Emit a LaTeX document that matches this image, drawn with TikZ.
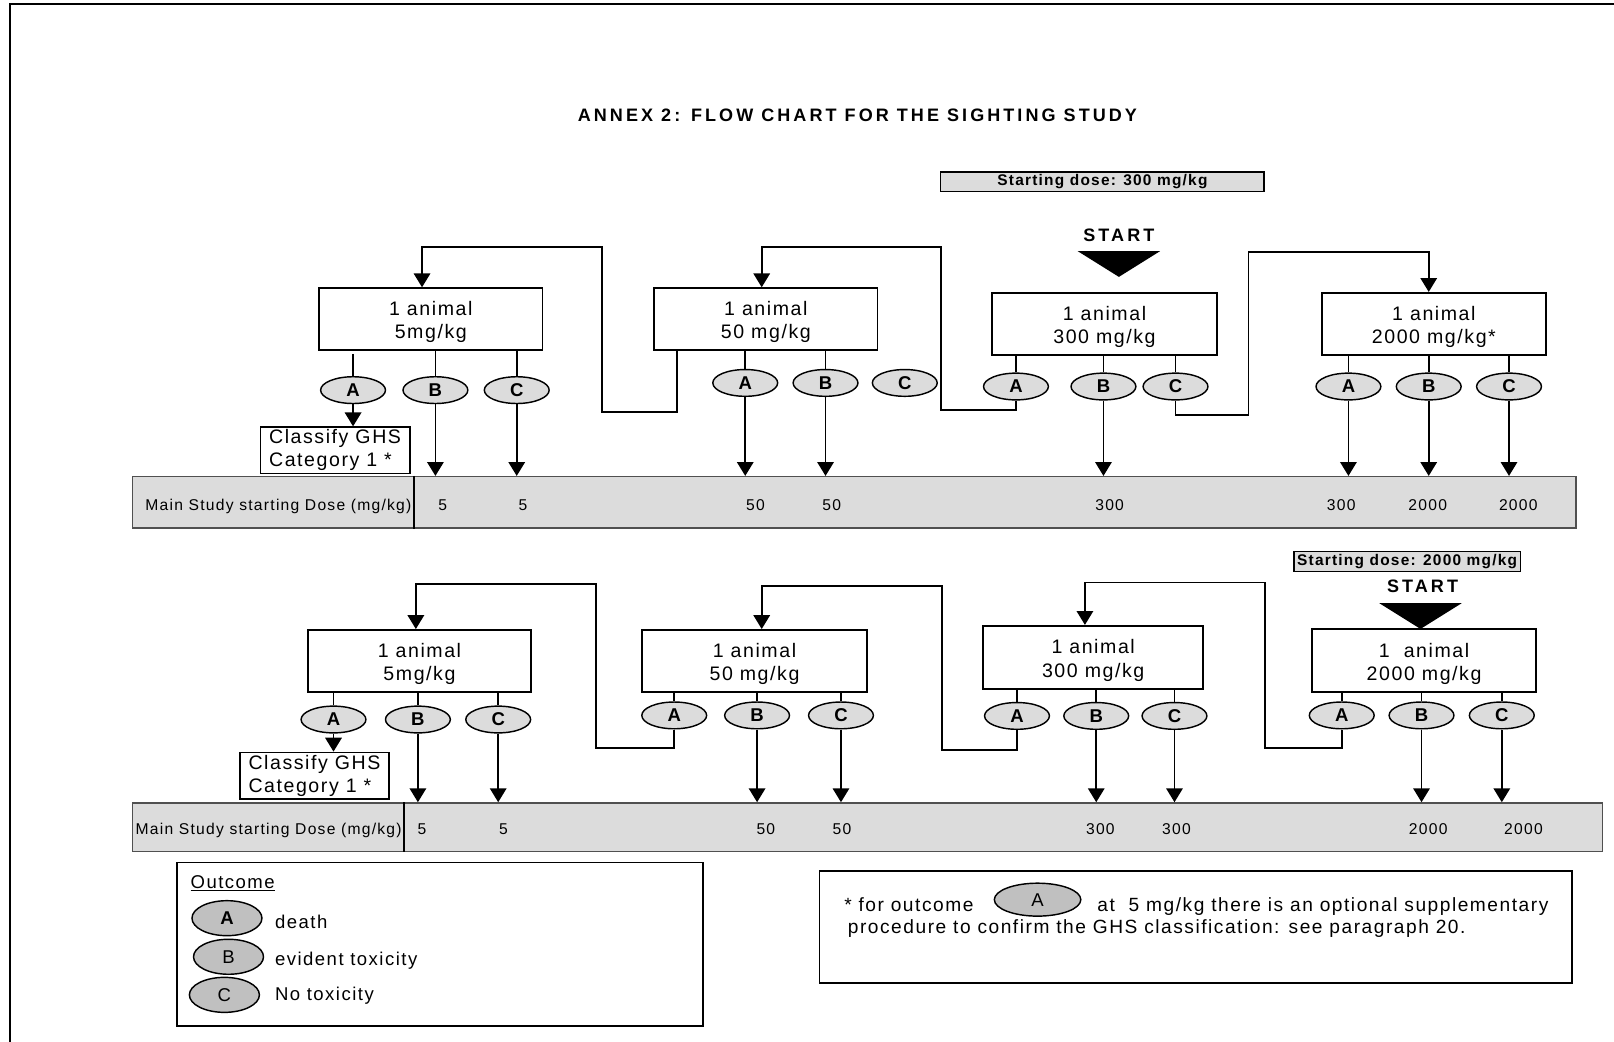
\documentclass[tikz,border=0pt]{standalone}
\usepackage{fontspec}
\setmainfont{Liberation Sans}
\newfontfamily\lsp{Liberation Sans}[LetterSpace=8]
\newfontfamily\ttl{Liberation Sans}[LetterSpace=17]
\usetikzlibrary{arrows.meta,calc,shapes.geometric}
\definecolor{lgray}{HTML}{DCDCDC}
\definecolor{mgray}{HTML}{C0C0C0}
\definecolor{bordgray}{HTML}{505050}
\newcommand{\dn}{\rule{0pt}{20pt}}
\begin{document}
\begin{tikzpicture}[x={(1pt,0)}, y={(0,-1pt)},
  box/.style={draw, line width=1.8pt, minimum width=217pt, minimum height=60pt, inner sep=0pt, align=center, font=\lsp\fontsize{19}{22.5}\selectfont},
  oval/.style={ellipse, draw, line width=1.4pt, fill=lgray, minimum width=63pt, minimum height=26pt, inner sep=0pt, font=\bfseries\fontsize{18}{18}\selectfont},
  legoval/.style={ellipse, draw, line width=1.4pt, fill=mgray, minimum width=68pt, minimum height=34pt, inner sep=0pt, font=\fontsize{18}{18}\selectfont},
  arr/.style={-{Triangle[width=16pt,length=13.5pt]}, line width=1.7pt},
  ln/.style={line width=1.7pt},
  cls/.style={draw, line width=1.6pt, minimum width=145pt, minimum height=45pt, inner sep=0pt, align=left, font=\lsp\fontsize{19}{22.5}\selectfont},
  bar/.style={draw=bordgray, line width=1.3pt, fill=lgray, inner sep=0pt},
  sep/.style={line width=1.6pt},
  bartext/.style={font=\lsp\fontsize{15.2}{16}\selectfont, inner sep=0pt, anchor=base},
  sdose/.style={draw, line width=1.2pt, fill=lgray, minimum height=19pt, inner sep=0pt, font=\lsp\bfseries\fontsize{15}{15}\selectfont},
  starttxt/.style={font=\ttl\bfseries\fontsize{17.5}{18}\selectfont, inner sep=0pt},
  lt/.style={font=\lsp\fontsize{18}{21}\selectfont, inner sep=0pt},
  nt/.style={font=\lsp\fontsize{18.6}{21}\selectfont, inner sep=0pt},
  frame/.style={draw, line width=1.6pt, inner sep=0pt}
]
\useasboundingbox (0,0) rectangle (1568,1012);
% page border
\draw[line width=2pt] (10,1012) -- (10,4) -- (1568,4);
% title
\node[font=\ttl\bfseries\fontsize{17.5}{20}\selectfont, inner sep=0pt] (title) at (833,112) {ANNEX 2: FLOW CHART FOR THE SIGHTING STUDY};

% ===== top section =====
\node[sdose, minimum width=314pt] (sd1) at (1071,176.5) {Starting dose: 300 mg/kg};
\node[starttxt] (st1) at (1087,229) {START};
\fill (1047,244) -- (1127,244) -- (1087,269) -- cycle;

\node[box] (T1) at (418.5,310) {\dn 1 animal\\5mg/kg};
\node[box] (T2) at (744,310) {\dn 1 animal\\50 mg/kg};
\node[box, minimum width=218pt] (T3) at (1073,314.5) {\dn 1 animal\\300 mg/kg};
\node[box, minimum width=218pt] (T4) at (1393,314.5) {\dn 1 animal\\2000 mg/kg*};

\node[oval] (T1a) at (343,379) {A};
\node[oval] (T1b) at (423,379) {B};
\node[oval] (T1c) at (502,379) {C};
\node[oval] (T2a) at (724,372) {A};
\node[oval] (T2b) at (802,372) {B};
\node[oval] (T2c) at (879,372) {C};
\node[oval] (T3a) at (987,375.5) {A};
\node[oval] (T3b) at (1072,375.5) {B};
\node[oval] (T3c) at (1142,375.5) {C};
\node[oval] (T4a) at (1310,375.5) {A};
\node[oval] (T4b) at (1388,375.5) {B};
\node[oval] (T4c) at (1466,375.5) {C};

\node[cls] (C1) at (325.5,437.5) {Classify GHS\\Category 1 *};

\node[bar, minimum width=1402pt, minimum height=50pt] (TB) at (830,488) {};
\draw[sep] ($(TB.north west)+(274,0)$) -- ($(TB.south west)+(274,0)$);
\node[bartext] (tl) at (270.5,496) {Main Study starting Dose (mg/kg)};
\node[bartext] (tv1) at (430,496) {5};
\node[bartext] (tv2) at (508,496) {5};
\node[bartext] (tv3) at (734,496) {50};
\node[bartext] (tv4) at (808,496) {50};
\node[bartext] (tv5) at (1078,496) {300};
\node[bartext] (tv6) at (1303,496) {300};
\node[bartext] (tv7) at (1387,496) {2000};
\node[bartext] (tv8) at (1475,496) {2000};

% box to ellipse lines
\draw[ln] ([yshift=-3pt]T1a.north |- T1.south) -- (T1a.north);
\foreach \e in {T1b,T1c}{\draw[ln] (\e.north |- T1.south) -- (\e.north);}
\foreach \e in {T2a,T2b}{\draw[ln] (\e.north |- T2.south) -- (\e.north);}
\foreach \e in {T3a,T3b,T3c}{\draw[ln] (\e.north |- T3.south) -- (\e.north);}
\foreach \e in {T4a,T4b,T4c}{\draw[ln] (\e.north |- T4.south) -- (\e.north);}
% arrows to bar
\foreach \e in {T1b,T1c,T2a,T2b,T3b,T4a,T4b,T4c}{\draw[arr] (\e.south) -- (\e.south |- TB.north);}
\draw[arr] (T1a.south) -- (T1a.south |- C1.north);
% loops
\coordinate (L1a) at (584.5,400); \coordinate (L1b) at (410,240);
\draw[arr] ($(T2.south west)+(23,0)$) |- (L1a) |- (L1b) -- (L1b |- T1.north);
\coordinate (L2a) at (914,398); \coordinate (L2b) at (740,240);
\draw[arr] (T3a.south) |- (L2a) |- (L2b) -- (L2b |- T2.north);
\coordinate (L3a) at (1213,403); \coordinate (L3b) at (1388,245);
\draw[arr] (T3c.south) |- (L3a) |- (L3b) -- (L3b |- T4.north);

% ===== bottom section =====
\node[sdose, minimum width=220pt] (sd2) at (1367,545.5) {Starting dose: 2000 mg/kg};
\node[starttxt] (st2) at (1382,570) {START};
\fill (1340,586) -- (1420,586) -- (1380,611) -- cycle;

\node[box] (B1) at (407.5,642) {\dn 1 animal\\5mg/kg};
\node[box, minimum width=218pt] (B2) at (733,642) {\dn 1 animal\\50 mg/kg};
\node[box, minimum width=214pt, minimum height=61pt] (B3) at (1062,638.5) {\dn 1 animal\\300 mg/kg};
\node[box, minimum height=61pt] (B4) at (1383.5,641.5) {\dn 1\ \ animal\\2000 mg/kg};

\node[oval] (B1a) at (324,699) {A};
\node[oval] (B1b) at (406,699) {B};
\node[oval] (B1c) at (484,699) {C};
\node[oval] (B2a) at (655,695) {A};
\node[oval] (B2b) at (735.5,695) {B};
\node[oval] (B2c) at (817,695) {C};
\node[oval] (B3a) at (988,695.5) {A};
\node[oval] (B3b) at (1065,695.5) {B};
\node[oval] (B3c) at (1141,695.5) {C};
\node[oval] (B4a) at (1303.5,695) {A};
\node[oval] (B4b) at (1381,695) {B};
\node[oval] (B4c) at (1459,695) {C};

\node[cls] (C2) at (305.5,753.5) {Classify GHS\\Category 1 *};

\node[bar, minimum width=1428pt, minimum height=47pt] (BB) at (843,803.5) {};
\draw[sep] ($(BB.north west)+(264,0)$) -- ($(BB.south west)+(264,0)$);
\node[bartext] (bl) at (261,810.5) {Main Study starting Dose (mg/kg)};
\node[bartext] (bv1) at (410,810.5) {5};
\node[bartext] (bv2) at (489,810.5) {5};
\node[bartext] (bv3) at (744,810.5) {50};
\node[bartext] (bv4) at (818,810.5) {50};
\node[bartext] (bv5) at (1069,810.5) {300};
\node[bartext] (bv6) at (1143,810.5) {300};
\node[bartext] (bv7) at (1387.5,810.5) {2000};
\node[bartext] (bv8) at (1480,810.5) {2000};

\foreach \e in {B1a,B1b,B1c}{\draw[ln] (\e.north |- B1.south) -- (\e.north);}
\foreach \e in {B2a,B2b,B2c}{\draw[ln] (\e.north |- B2.south) -- (\e.north);}
\foreach \e in {B3a,B3b,B3c}{\draw[ln] (\e.north |- B3.south) -- (\e.north);}
\foreach \e in {B4a,B4b,B4c}{\draw[ln] (\e.north |- B4.south) -- (\e.north);}
\foreach \e in {B1b,B1c,B2b,B2c,B3b,B3c,B4b,B4c}{\draw[arr] (\e.south) -- (\e.south |- BB.north);}
\draw[arr] (B1a.south) -- (B1a.south |- C2.north);
\coordinate (M1a) at (579,727); \coordinate (M1b) at (404,567);
\draw[arr] (B2a.south) |- (M1a) |- (M1b) -- (M1b |- B1.north);
\coordinate (M2a) at (915,728.5); \coordinate (M2b) at (740,569);
\draw[arr] (B3a.south) |- (M2a) |- (M2b) -- (M2b |- B2.north);
\coordinate (M3a) at (1229,727); \coordinate (M3b) at (1054,566);
\draw[arr] (B4a.south) |- (M3a) |- (M3b) -- (M3b |- B3.north);

% ===== legend =====
\node[frame, minimum width=511pt, minimum height=159pt] (leg) at (427.5,917.5) {};
\node[lt, anchor=base west] (outc) at (185,863.5) {\underline{Outcome}};
\node[legoval] (la) at (220.5,892) {\bfseries A};
\node[legoval] (lb) at (222,929.5) {B};
\node[legoval] (lc) at (218,966.5) {C};
\node[lt, anchor=base west] (ld) at (267,902.5) {death};
\node[lt, anchor=base west] (le) at (267,937.5) {evident toxicity};
\node[lt, anchor=base west] (lf) at (267,971.5) {No toxicity};

% ===== note =====
\node[frame, minimum width=731pt, minimum height=109pt] (note) at (1161.5,900.5) {};
\node[nt, anchor=base west] (n1) at (820,885.5) {* for outcome};
\node[legoval, minimum width=84pt, minimum height=32pt] (na) at (1008,874) {A};
\node[nt, anchor=base west] (n2) at (1066,885.5) {at\ \ 5 mg/kg there is an optional supplementary};
\node[nt, anchor=base west] (n3) at (823.5,907) {procedure to confirm the GHS classification: see paragraph 20.};
\end{tikzpicture}
\end{document}
